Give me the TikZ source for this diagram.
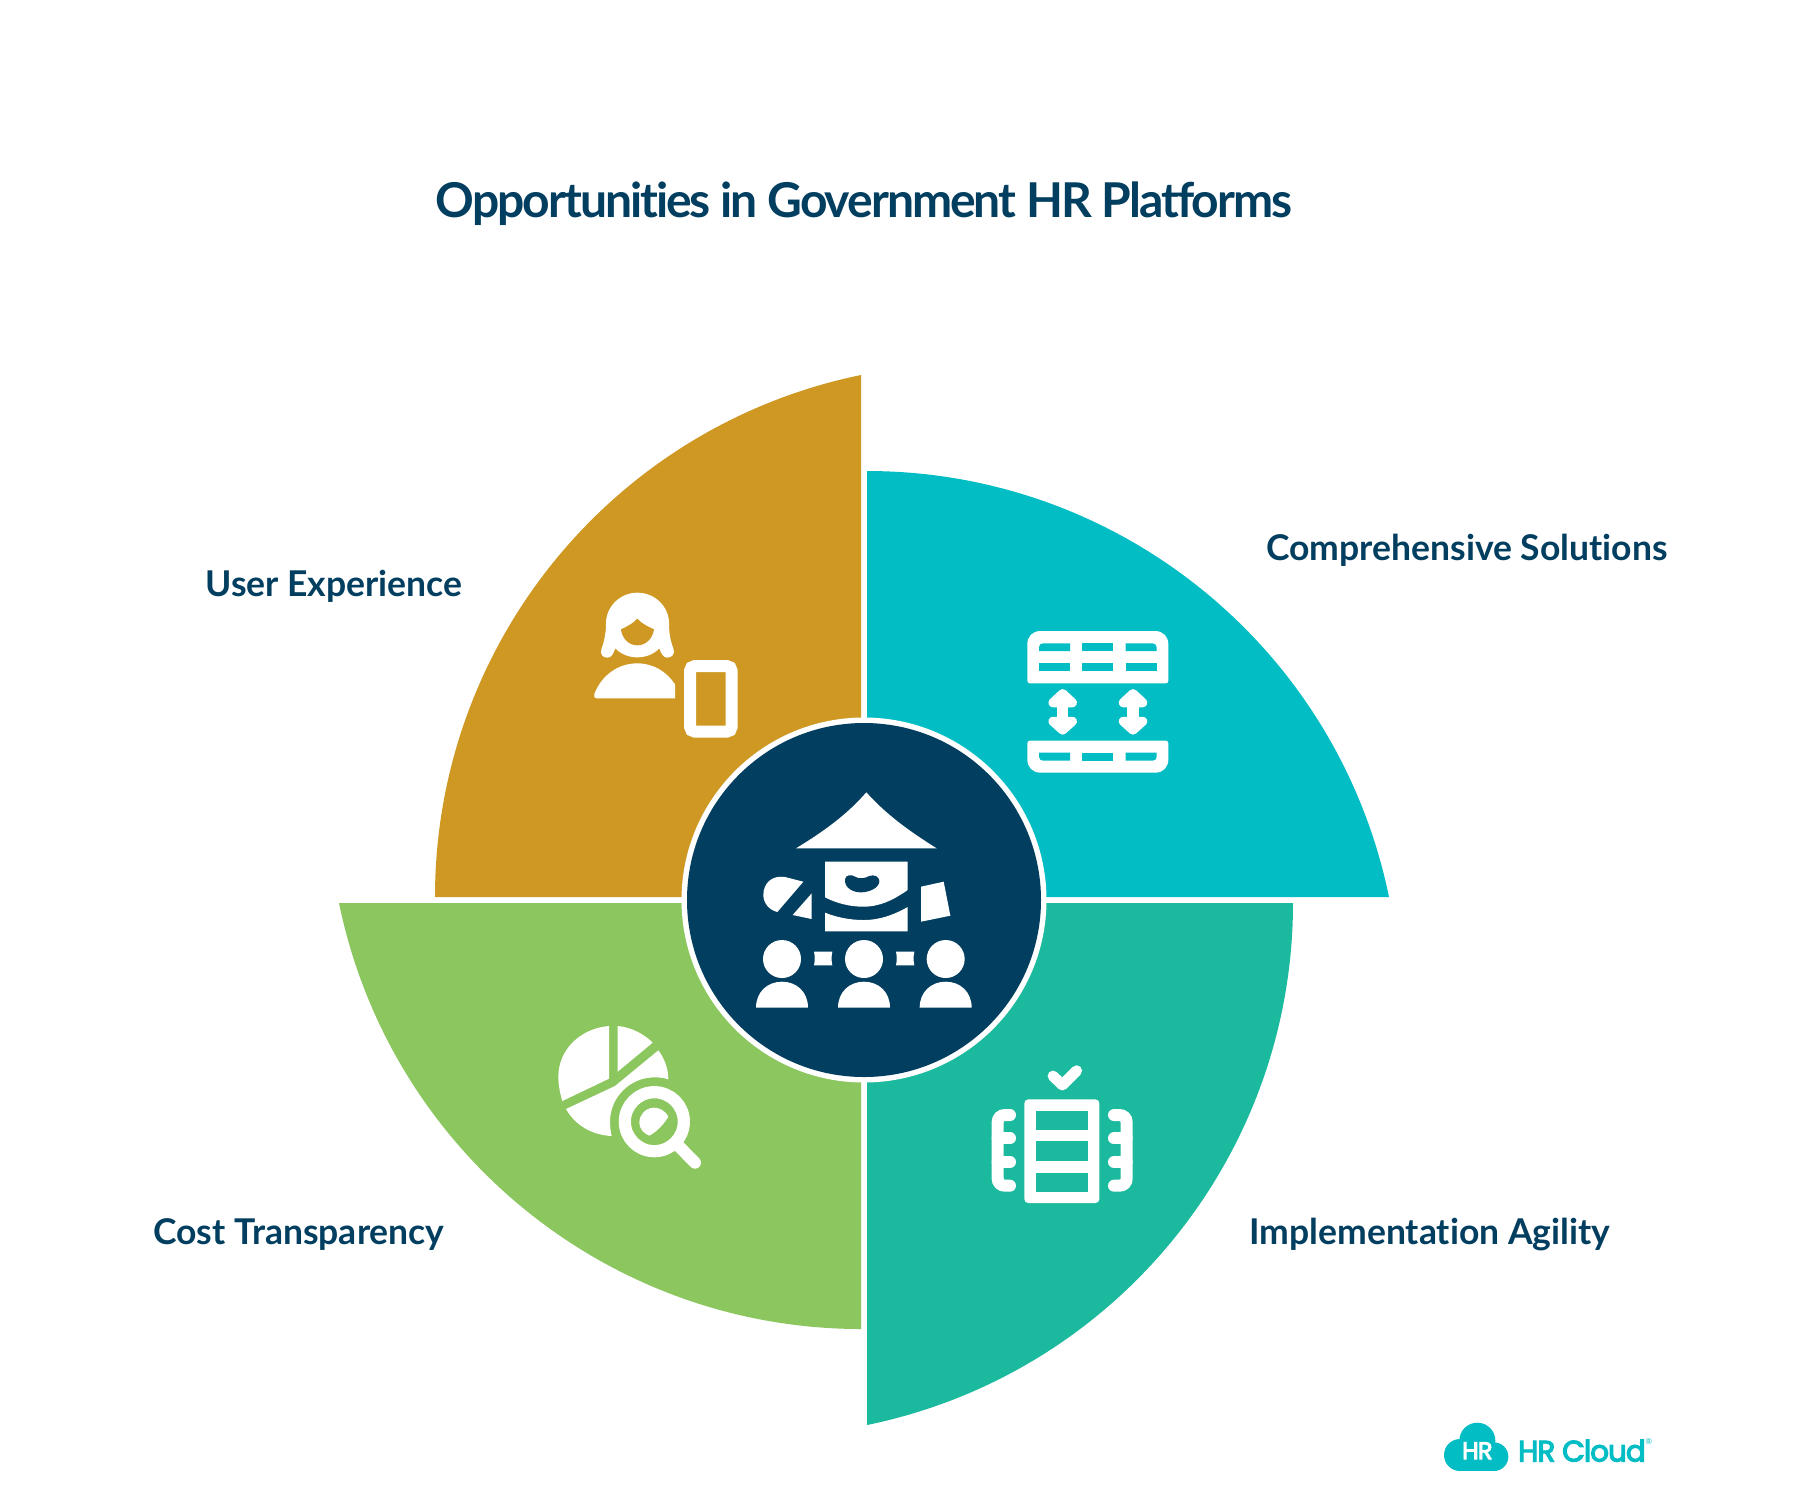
\documentclass[tikz,border=0pt]{standalone}
\usepackage{fontspec}
\setmainfont{Lato}[Ligatures=NoCommon]
\newfontfamily\titlefont[LetterSpace=-4.2,Ligatures=NoCommon]{Lato}
\newfontfamily\logofont[FakeBold=4,LetterSpace=-3.3]{Poppins}
\definecolor{cgold}{HTML}{CE9823}
\definecolor{ccyan}{HTML}{02BDC4}
\definecolor{cteal}{HTML}{1BB99D}
\definecolor{cgreen}{HTML}{8CC65E}
\definecolor{cnavy}{HTML}{023E5F}
\tikzset{
  lab/.style={anchor=base west,inner sep=0pt,text=cnavy,font=\fontsize{17.75}{20}\selectfont\bfseries},
  ttl/.style={anchor=base,inner sep=0pt,text=cnavy,font=\titlefont\fontsize{24}{28}\selectfont\bfseries},
  ink/.style={fill=white,draw=none},
  zoomunits/.style={x=0.166667pt,y=-0.166667pt},
  petal/.style={shift={(864,900)}}
}
\begin{document}
\begin{tikzpicture}[x=0.5pt,y=-0.5pt]
\useasboundingbox (0,0) rectangle (1800,1501);
\fill[white] (0,0) rectangle (1800,1501);
% petals
\begin{scope}[petal]
\fill[ccyan] (3,-3) -- (3,-429) .. controls (256,-429) and (474,-251) .. (525,-3) -- cycle;
\end{scope}
\begin{scope}[petal,rotate=90]
\fill[cgold] (3,-3) -- (3,-429) .. controls (256,-429) and (474,-251) .. (525,-3) -- cycle;
\end{scope}
\begin{scope}[petal,rotate=180]
\fill[cgreen] (3,-3) -- (3,-429) .. controls (256,-429) and (474,-251) .. (525,-3) -- cycle;
\end{scope}
\begin{scope}[petal,rotate=-90]
\fill[cteal] (3,-3) -- (3,-429) .. controls (256,-429) and (474,-251) .. (525,-3) -- cycle;
\end{scope}
% hub
\fill[white] (864,900) circle (182.5);
\fill[cnavy] (864,900) circle (177);
% hub icon
\begin{scope}[shift={(660,700)},zoomunits]
\fill[ink] (619,277) .. controls (560,345) and (490,395) .. (408,445) -- (830,445) .. controls (750,395) and (680,345) .. (619,277) -- cycle;
\fill[ink] (495,485) -- (743,485) -- (743,570) .. controls (700,600) and (660,620) .. (610,620) .. controls (570,620) and (530,610) .. (495,592) -- cycle;
\fill[ink] (495,638) .. controls (530,652) and (570,660) .. (610,660) .. controls (660,660) and (700,645) .. (743,621) -- (743,694) -- (495,694) -- cycle;
\fill[cnavy] (555,538) .. controls (556,525) and (575,522) .. (585,530) .. controls (598,538) and (615,535) .. (628,528) .. controls (642,522) and (658,530) .. (658,543) .. controls (658,565) and (625,577) .. (603,577) .. controls (580,577) and (553,565) .. (555,538) -- cycle;
\fill[ink] (430,545) -- (375,531) .. controls (335,525) and (310,550) .. (310,585) .. controls (310,610) and (328,630) .. (352,636) -- cycle;
\fill[ink] (455,580) -- (455,657) -- (398,645) -- cycle;
\fill[ink] (783,560) -- (851,545) -- (871,647) -- (783,665) -- cycle;
\foreach \cx in {366,612,857}{
  \fill[ink] (\cx,777) circle (57);
  \fill[ink] (\cx-78,923) .. controls (\cx-78,875) and (\cx-43,845) .. (\cx,845) .. controls (\cx+43,845) and (\cx+78,875) .. (\cx+78,923) -- cycle;
}
\foreach \rx in {462,708}{
  \fill[ink] (\rx,755) -- (\rx+55,755) .. controls (\rx+52,768) and (\rx+52,783) .. (\rx+55,796) -- (\rx,796) .. controls (\rx+3,783) and (\rx+3,768) .. (\rx,755) -- cycle;
}
\end{scope}
% gold icon
\begin{scope}[shift={(560,570)},zoomunits]
\fill[ink] (232,68) .. controls (285,68) and (327,110) .. (327,160) .. controls (327,185) and (330,210) .. (340,235) .. controls (347,252) and (335,263) .. (322,263) .. controls (310,263) and (303,250) .. (298,235) .. controls (282,252) and (258,262) .. (232,262) .. controls (206,262) and (182,252) .. (166,235) .. controls (160,250) and (155,263) .. (142,263) .. controls (128,263) and (118,252) .. (125,235) .. controls (134,210) and (138,185) .. (138,160) .. controls (138,110) and (180,68) .. (232,68) -- cycle;
\fill[cgold] (183,178) .. controls (200,170) and (220,160) .. (232,146) .. controls (244,160) and (264,170) .. (282,178) .. controls (278,205) and (258,226) .. (232,226) .. controls (206,226) and (186,205) .. (183,178) -- cycle;
\fill[ink] (110,385) -- (345,385) -- (345,343) .. controls (320,305) and (280,280) .. (232,280) .. controls (175,280) and (125,315) .. (103,372) .. controls (100,380) and (103,385) .. (110,385) -- cycle;
\draw[white,line width=6pt,rounded corners=2.5pt] (390,288) rectangle (515,485);
\end{scope}
% cyan icon
\begin{scope}[shift={(1000,610)},zoomunits]
\fill[ink] (122,63) -- (465,63) .. controls (490,63) and (505,80) .. (505,103) -- (505,212) .. controls (505,217) and (502,220) .. (497,220) -- (90,220) .. controls (85,220) and (82,217) .. (82,212) -- (82,103) .. controls (82,80) and (97,63) .. (122,63) -- cycle;
\fill[ccyan] (117,123) -- (117,112) .. controls (117,105) and (122,100) .. (129,100) -- (210,100) -- (210,123) -- cycle;
\fill[ccyan] (247,100) rectangle (340,123);
\fill[ccyan] (377,100) -- (458,100) .. controls (465,100) and (470,105) .. (470,112) -- (470,123) -- (377,123) -- cycle;
\foreach \hx in {117,247,377}{\fill[ccyan] (\hx,159) rectangle (\hx+93,184);}
\fill[ink] (90,392) -- (497,392) .. controls (502,392) and (505,395) .. (505,400) -- (505,448) .. controls (505,471) and (490,488) .. (465,488) -- (122,488) .. controls (97,488) and (82,471) .. (82,448) -- (82,400) .. controls (82,395) and (85,392) .. (90,392) -- cycle;
\fill[ccyan] (117,428) -- (210,428) -- (210,452) -- (129,452) .. controls (122,452) and (117,447) .. (117,440) -- cycle;
\fill[ccyan] (247,428) rectangle (340,452);
\fill[ccyan] (377,428) -- (470,428) -- (470,440) .. controls (470,447) and (465,452) .. (458,452) -- (377,452) -- cycle;
\foreach \ax in {188,399}{
  \filldraw[white,line width=4.6pt,line join=round] (\ax,251) -- (\ax+29,278) -- (\ax-29,278) -- cycle;
  \filldraw[white,line width=4.6pt,line join=round] (\ax,360) -- (\ax+29,334) -- (\ax-29,334) -- cycle;
  \fill[ink] (\ax-17,275) rectangle (\ax+17,337);
}
\end{scope}
% green icon
\begin{scope}[shift={(540,1000)},zoomunits]
\fill[ink] (207,78) .. controls (120,85) and (55,150) .. (55,230) .. controls (55,255) and (60,280) .. (67,303) -- (207,236) -- cycle;
\fill[ink] (233,78) .. controls (275,82) and (312,102) .. (338,128) -- (233,215) -- cycle;
\fill[ink] (355,151) .. controls (373,175) and (385,205) .. (385,238) .. controls (370,233) and (357,232) .. (343,232) .. controls (270,232) and (210,292) .. (210,365) .. controls (210,380) and (212,395) .. (215,408) .. controls (155,405) and (105,375) .. (78,327) -- (225,258) -- cycle;
\draw[white,line width=6.1pt] (343,365) circle (88.5);
\fill[ink] (385,350) .. controls (375,330) and (355,322) .. (340,323) .. controls (315,325) and (298,345) .. (298,368) .. controls (298,385) and (310,400) .. (328,407) .. controls (350,395) and (370,375) .. (385,350) -- cycle;
\draw[white,line width=6pt,line cap=round] (410,432) -- (465,488);
\end{scope}
% teal icon
\begin{scope}[shift={(970,1050)},zoomunits]
\draw[white,line width=5.4pt,line cap=round,line join=round] (249,78) -- (277,105) -- (320,62);
\fill[ink] (175,148) -- (376,148) .. controls (383,148) and (388,153) .. (388,160) -- (388,447) .. controls (388,454) and (383,459) .. (376,459) -- (175,459) .. controls (168,459) and (163,454) .. (163,447) -- (163,160) .. controls (163,153) and (168,148) .. (175,148) -- cycle;
\fill[cteal] (198,183) rectangle (353,240);
\fill[cteal] (198,274) rectangle (353,333);
\fill[cteal] (198,369) rectangle (353,425);
\draw[white,line width=6pt,line cap=round] (120,195) -- (105,195) .. controls (92,195) and (83,204) .. (83,217) -- (83,385) .. controls (83,398) and (92,407) .. (105,407) -- (120,407);
\draw[white,line width=6pt,line cap=round] (83,265) -- (120,265) (83,336) -- (120,336);
\draw[white,line width=6pt,line cap=round] (432,195) -- (448,195) .. controls (461,195) and (470,204) .. (470,217) -- (470,385) .. controls (470,398) and (461,407) .. (448,407) -- (432,407);
\draw[white,line width=6pt,line cap=round] (470,265) -- (432,265) (470,336) -- (432,336);
\end{scope}
% logo
\begin{scope}[shift={(1420,1400)},zoomunits]
\fill[ccyan] (120,165) circle (48);
\fill[ccyan] (172,122) circle (54);
\fill[ccyan] (222,170) circle (43);
\fill[ccyan] (120,175) rectangle (222,213);
\node[inner sep=0pt,text=white,font=\logofont\fontsize{12}{14}\selectfont] (hrmark) at (172,152) {HR};
\node[inner sep=0pt,anchor=west,text=ccyan,font=\logofont\fontsize{14.7}{18}\selectfont] (hrword) at (293,152) {HR Cloud};
\node[inner sep=0pt,text=ccyan,font=\fontsize{4}{5}\selectfont] (hrreg) at (687,125) {®};
\end{scope}
% texts
\node[ttl] (title) at (864,217.5) {Opportunities in Government HR Platforms};
\node[lab] (ux) at (205,596.5) {User Experience};
\node[lab] (comp) at (1266,560.5) {Comprehensive Solutions};
\node[lab] (cost) at (153,1244.7) {Cost Transparency};
\node[lab] (impl) at (1249,1244.7) {Implementation Agility};
\end{tikzpicture}
\end{document}
